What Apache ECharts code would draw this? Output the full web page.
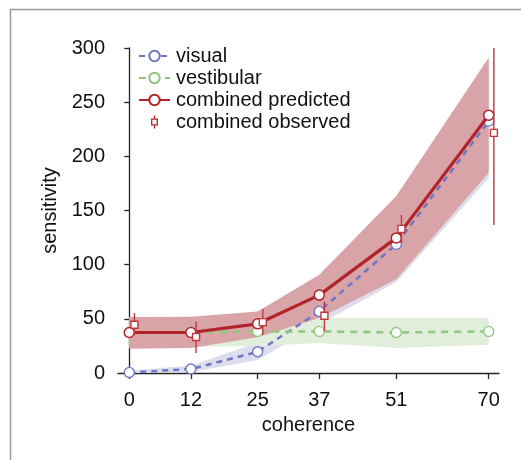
<!DOCTYPE html>
<html>
<head>
<meta charset="utf-8">
<script src="https://cdn.jsdelivr.net/npm/echarts@6/dist/echarts.min.js"></script>
<style>
  html, body { margin: 0; padding: 0; background: #fff; }
  #main { width: 521px; height: 460px; }
</style>
</head>
<body>
<div id="main"></div>
<script>
var xPos = [0, 12, 25, 37, 52, 70];
var xLabels = ['0', '12', '25', '37', '51', '70'];

// visual
var visual = [0.5, 3.7, 19.6, 56.8, 118.8, 232.5];
var visualLo = [0, 1, 12, 45, 84, 180];
var visualHi = [2, 7, 28, 68, 150, 285];

// vestibular
var vest = [37.5, 37.5, 38.4, 38.4, 37.4, 38.4];
var vestLo = [24, 24, 25, 27.6, 23, 26];
var vestHi = [51, 51, 51, 50.7, 50.7, 50.7];

// combined predicted
var comb = [37.4, 37.4, 45.4, 71.9, 124.7, 238];
var combLo = [22.4, 23, 33, 50.7, 86.6, 184.8];
var combHi = [51.6, 52, 56.8, 90.6, 163.4, 291.2];

// combined observed (drawn a bit right of the coherence)
var obsShift = 1;
var obs = [44.5, 33.2, 47, 52.8, 133, 221.7];
var obsLo = [35, 18.4, 35, 38.3, 120, 136.7];
var obsHi = [55.3, 47.5, 59, 66, 145.9, 300];

var RED = '#b2242b', BLUE = '#6f77c4', GREEN = '#8ec77e';
var FONT = '"Liberation Sans", Arial, Helvetica, sans-serif';

var myChart = echarts.init(document.getElementById('main'));

function pairs(ys) {
	return xPos.map(function (x, i) { return [x, ys[i]]; });
}

// shaded band between lo and hi
function bandSeries(lo, hi, color, z) {
	return {
		type: 'custom',
		silent: true,
		z: z,
		data: xPos.map(function (x, i) { return [x, lo[i], hi[i]]; }),
		renderItem: function (params, api) {
			if (params.dataIndex !== 0) return;
			var pts = [];
			for (var i = 0; i < xPos.length; i++) pts.push(api.coord([xPos[i], hi[i]]));
			for (var j = xPos.length - 1; j >= 0; j--) pts.push(api.coord([xPos[j], lo[j]]));
			return { type: 'polygon', shape: { points: pts }, style: { fill: color } };
		}
	};
}

var option = {
	animation: false,
	textStyle: { fontFamily: FONT },
	graphic: [
		{ type: 'line', shape: { x1: 10.5, y1: 9, x2: 10.5, y2: 460 }, style: { stroke: '#9a9a9a', lineWidth: 1.5 } },
		{ type: 'line', shape: { x1: 10, y1: 9.5, x2: 521, y2: 9.5 }, style: { stroke: '#9a9a9a', lineWidth: 1.5 } }
	],
	grid: { left: 118, right: 22, top: 48, bottom: 87 },
	legend: {
		orient: 'vertical',
		left: 133,
		top: 40,
		itemWidth: 31,
		itemHeight: 13,
		itemGap: 0,
		textStyle: { fontSize: 20, color: '#111', fontFamily: FONT, lineHeight: 22, padding: [0, 0, 0, 1] },
		data: [
			{ name: 'visual' },
			{ name: 'vestibular' },
			{ name: 'combined predicted' },
			{
				name: 'combined observed',
				icon: 'path://M5,0L5,4M2,4L8,4L8,10L2,10ZM5,10L5,14',
				itemStyle: { color: '#fff', borderColor: RED, borderWidth: 1.3 }
			}
		]
	},
	xAxis: {
		type: 'value',
		min: -2.2,
		max: 72,
		name: 'coherence',
		nameLocation: 'middle',
		nameGap: 42,
		nameTextStyle: { fontSize: 20, color: '#111', fontFamily: FONT },
		axisLine: { onZero: false, lineStyle: { color: '#222', width: 1.3 } },
		axisTick: { show: true, customValues: xPos, length: 6, lineStyle: { color: '#222', width: 1.3 } },
		axisLabel: {
			customValues: xPos,
			fontSize: 20,
			color: '#111',
			margin: 17,
			formatter: function (v) { return xLabels[xPos.indexOf(v)]; }
		},
		splitLine: { show: false }
	},
	yAxis: {
		type: 'value',
		min: 0,
		max: 300,
		interval: 50,
		name: 'sensitivity',
		nameLocation: 'middle',
		nameGap: 58,
		nameTextStyle: { fontSize: 20, color: '#111', fontFamily: FONT },
		axisLine: { show: true, lineStyle: { color: '#222', width: 1.3 } },
		axisTick: { show: true, length: 5, lineStyle: { color: '#222', width: 1.3 } },
		axisLabel: { fontSize: 20, color: '#111', margin: 13 },
		splitLine: { show: false }
	},
	series: [
		bandSeries(visualLo, visualHi, '#dcdded', 1),
		bandSeries(vestLo, vestHi, '#e2eedc', 2),
		bandSeries(combLo, combHi, '#d9a4a7', 3),
		{
			name: 'visual',
			type: 'line',
			z: 4,
			data: pairs(visual),
			symbol: 'circle',
			symbolSize: 10,
			lineStyle: { color: BLUE, width: 2.5, type: [6, 5] },
			itemStyle: { color: '#fff', borderColor: BLUE, borderWidth: 1.3 }
		},
		{
			name: 'vestibular',
			type: 'line',
			z: 5,
			data: pairs(vest),
			symbol: 'circle',
			symbolSize: 10,
			lineStyle: { color: GREEN, width: 2.5, type: [7, 6] },
			itemStyle: { color: '#fff', borderColor: GREEN, borderWidth: 1.3 }
		},
		{
			name: 'combined predicted',
			type: 'line',
			z: 6,
			data: pairs(comb),
			symbol: 'circle',
			symbolSize: 10,
			lineStyle: { color: RED, width: 3.2 },
			itemStyle: { color: '#fff', borderColor: RED, borderWidth: 1.5 }
		},
		{
			name: 'combined observed',
			type: 'custom',
			z: 7,
			data: xPos.map(function (x, i) { return [x + obsShift, obs[i], obsLo[i], obsHi[i]]; }),
			itemStyle: { color: RED },
			renderItem: function (params, api) {
				var p = api.coord([api.value(0), api.value(1)]);
				var lo = api.coord([api.value(0), api.value(2)]);
				var hi = api.coord([api.value(0), api.value(3)]);
				var s = 7;
				return {
					type: 'group',
					children: [
						{ type: 'line', shape: { x1: p[0], y1: lo[1], x2: p[0], y2: hi[1] }, style: { stroke: '#c1373d', lineWidth: 1.4 } },
						{ type: 'rect', shape: { x: p[0] - s / 2, y: p[1] - s / 2, width: s, height: s }, style: { fill: '#fff', stroke: '#c1373d', lineWidth: 1.4 } }
					]
				};
			}
		}
	]
};

myChart.setOption(option);
</script>
</body>
</html>
